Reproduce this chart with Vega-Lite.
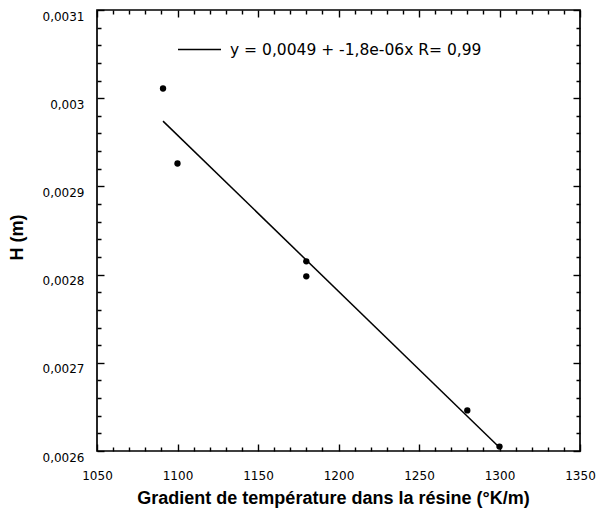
{
  "$schema": "https://vega.github.io/schema/vega-lite/v6.json",
  "width": 483,
  "height": 441,
  "autosize": "none",
  "padding": {"left": 97, "top": 10, "right": 17, "bottom": 59},
  "background": "white",
  "config": {
    "locale": {"number": {"decimal": ",", "thousands": ".", "grouping": [3], "currency": ["", ""]}},
    "view": {"stroke": "black", "strokeWidth": 1.7},
    "axis": {
      "grid": false,
      "domain": false,
      "ticks": true,
      "offset": -7,
      "tickSize": 7,
      "labelFont": "DejaVu Sans",
      "labelFontSize": 12,
      "labelColor": "black",
      "tickColor": "black",
      "tickWidth": 1.4,
      "tickOpacity": 1,
      "titleFont": "Liberation Sans",
      "titleFontSize": 18,
      "titleFontWeight": "bold",
      "titleColor": "black"
    }
  },
  "datasets": {
    "points": [
      {"gradient": 1091, "H": 0.003011},
      {"gradient": 1100, "H": 0.002926},
      {"gradient": 1180, "H": 0.002815},
      {"gradient": 1180, "H": 0.002798},
      {"gradient": 1280, "H": 0.002646},
      {"gradient": 1300, "H": 0.002605}
    ],
    "fit": [
      {"gradient": 1091, "H": 0.002974, "label": "y = 0,0049 + -1,8e-06x R= 0,99"},
      {"gradient": 1300, "H": 0.002604, "label": "y = 0,0049 + -1,8e-06x R= 0,99"}
    ]
  },
  "layer": [
    {
      "data": {"name": "points"},
      "mark": {"type": "point", "filled": true, "color": "black", "size": 40, "opacity": 1},
      "encoding": {
        "x": {
          "field": "gradient",
          "type": "quantitative",
          "scale": {"domain": [1050, 1350], "nice": false, "zero": false},
          "axis": {
            "orient": "bottom",
            "title": "Gradient de température dans la résine (°K/m)",
            "values": [1050,1060,1070,1080,1090,1100,1110,1120,1130,1140,1150,1160,1170,1180,1190,1200,1210,1220,1230,1240,1250,1260,1270,1280,1290,1300,1310,1320,1330,1340,1350],
            "format": "d",
            "labelExpr": "datum.value % 50 === 0 ? datum.label : ''",
            "tickDash": {"condition": {"test": "datum.value % 50 === 0", "value": [7, 0]}, "value": [0, 3, 4, 0]},
            "labelPadding": 19,
            "labelFlush": false,
            "labelOverlap": false,
            "titleX": 236,
            "titleY": 59,
            "titleAlign": "center",
            "titleBaseline": "alphabetic"
          }
        },
        "y": {
          "field": "H",
          "type": "quantitative",
          "scale": {"domain": [0.0026, 0.0031], "nice": false, "zero": false},
          "axis": {
            "orient": "left",
            "title": "H  (m)",
            "values": [0.0026,0.00262,0.00264,0.00266,0.00268,0.0027,0.00272,0.00274,0.00276,0.00278,0.0028,0.00282,0.00284,0.00286,0.00288,0.0029,0.00292,0.00294,0.00296,0.00298,0.003,0.00302,0.00304,0.00306,0.00308,0.0031],
            "format": ".2~g",
            "labelExpr": "abs(datum.value*10000 - round(datum.value*10000)) < 0.001 ? datum.label : ''",
            "tickDash": {"condition": {"test": "abs(datum.value*10000 - round(datum.value*10000)) < 0.001", "value": [7, 0]}, "value": [0, 3, 4, 0]},
            "labelPadding": 13,
            "labelOffset": 6,
            "labelFlush": false,
            "labelOverlap": false,
            "titleX": -82,
            "titleY": 227,
            "titleAngle": -90,
            "titleAlign": "center",
            "titleBaseline": "alphabetic"
          }
        }
      }
    },
    {
      "data": {"name": "fit"},
      "mark": {"type": "line", "strokeWidth": 1.5},
      "encoding": {
        "x": {
          "field": "gradient",
          "type": "quantitative",
          "axis": {
            "orient": "top",
            "title": null,
            "labels": false,
            "values": [1050,1060,1070,1080,1090,1100,1110,1120,1130,1140,1150,1160,1170,1180,1190,1200,1210,1220,1230,1240,1250,1260,1270,1280,1290,1300,1310,1320,1330,1340,1350],
            "tickDash": {"condition": {"test": "datum.value % 50 === 0", "value": [7, 0]}, "value": [0, 3, 4, 0]}
          }
        },
        "y": {
          "field": "H",
          "type": "quantitative",
          "axis": {
            "orient": "right",
            "title": null,
            "labels": false,
            "values": [0.0026,0.00262,0.00264,0.00266,0.00268,0.0027,0.00272,0.00274,0.00276,0.00278,0.0028,0.00282,0.00284,0.00286,0.00288,0.0029,0.00292,0.00294,0.00296,0.00298,0.003,0.00302,0.00304,0.00306,0.00308,0.0031],
            "tickDash": {"condition": {"test": "abs(datum.value*10000 - round(datum.value*10000)) < 0.001", "value": [7, 0]}, "value": [0, 3, 4, 0]}
          }
        },
        "stroke": {
          "field": "label",
          "type": "nominal",
          "scale": {"range": ["black"]},
          "legend": {
            "title": null,
            "orient": "none",
            "legendX": 80,
            "legendY": 17,
            "symbolType": "stroke",
            "symbolSize": 1849,
            "symbolStrokeWidth": 1.4,
            "symbolStrokeColor": "black",
            "labelFont": "DejaVu Sans",
            "labelFontSize": 15.5,
            "labelColor": "black",
            "labelLimit": 0,
            "labelOffset": 8,
            "padding": 0
          }
        }
      }
    }
  ],
  "resolve": {"axis": {"x": "independent", "y": "independent"}}
}
